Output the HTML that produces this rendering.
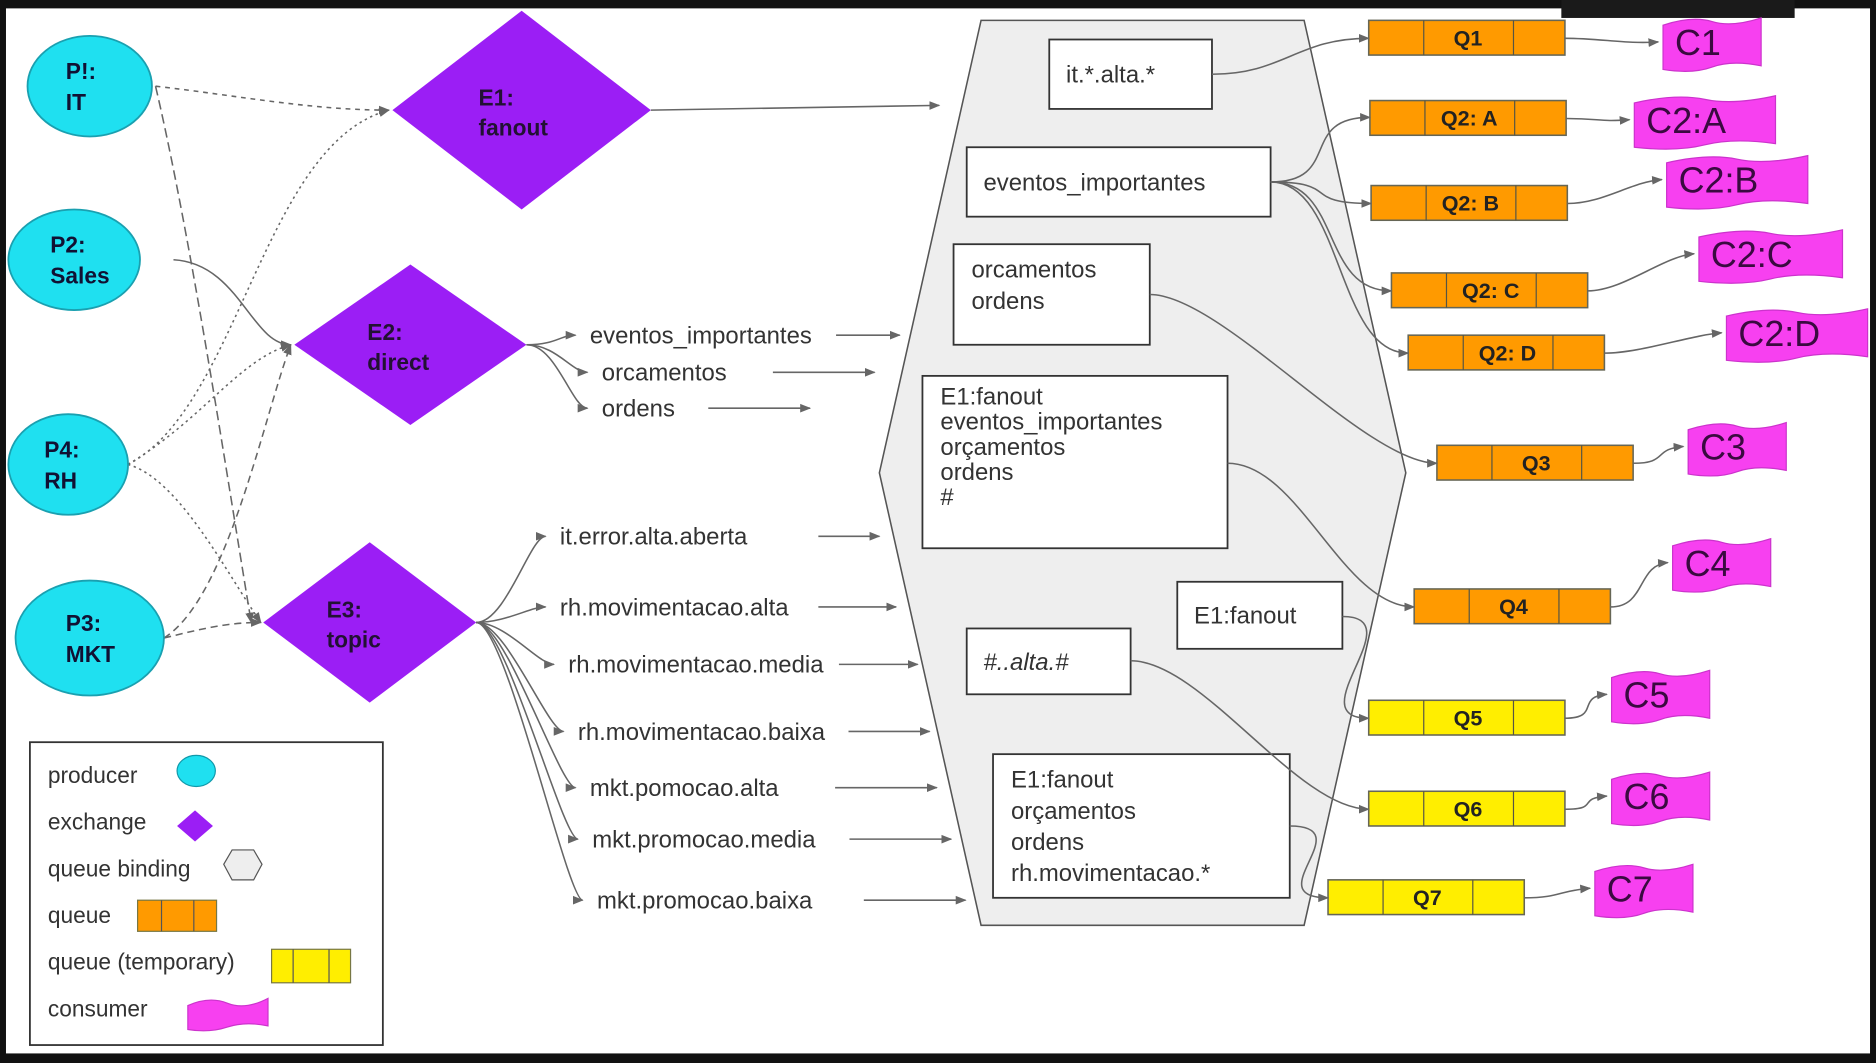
<!DOCTYPE html>
<html><head><meta charset="utf-8"><style>
html,body{margin:0;padding:0;background:#111;}
svg{display:block;}
text{font-family:"Liberation Sans",sans-serif;}
</style></head><body>
<svg width="1876" height="1063" viewBox="0 0 1568 888" preserveAspectRatio="none">
<defs><marker id="ar" viewBox="0 0 10 10" refX="9" refY="5" markerWidth="7" markerHeight="7" orient="auto"><path d="M0,1 L10,5 L0,9 z" fill="#666"/></marker></defs>
<rect x="0" y="0" width="1568" height="888" fill="#111"/>
<rect x="5" y="7" width="1558" height="873" fill="#fff"/>
<rect x="1305" y="0" width="195" height="15" fill="#1a1a1a"/>
<g id="edges" fill="none" stroke="#666" stroke-width="1.3"></g>
<polygon points="820,17 1090,17 1175,395 1090,773 820,773 735,395" fill="#eeeeee" stroke="#555" stroke-width="1.3"/>
<g id="nodes"></g>
<g id="lines" fill="none" stroke="#666" stroke-width="1.3"></g>
<g>
<rect x="25" y="620" width="295" height="253" fill="#fff" stroke="#333" stroke-width="1.5"/>
<text x="40" y="654" font-size="19" fill="#333">producer</text>
<ellipse cx="164" cy="644" rx="16" ry="13" fill="#1fe0f0" stroke="#19a"/>
<text x="40" y="693" font-size="19" fill="#333">exchange</text>
<polygon points="163,677 178,690 163,703 148,690" fill="#9b1ef5"/>
<text x="40" y="732" font-size="19" fill="#333">queue binding</text>
<polygon points="194,710 212,710 219,722 212,735 194,735 187,722" fill="#eee" stroke="#555"/>
<text x="40" y="771" font-size="19" fill="#333">queue</text>
<rect x="115" y="752" width="66" height="26" fill="#ff9a00" stroke="#774"/><line x1="135" y1="752" x2="135" y2="778" stroke="#555"/><line x1="162" y1="752" x2="162" y2="778" stroke="#555"/>
<text x="40" y="810" font-size="19" fill="#333">queue (temporary)</text>
<rect x="227" y="793" width="66" height="28" fill="#ffee00" stroke="#774"/><line x1="245" y1="793" x2="245" y2="821" stroke="#555"/><line x1="275" y1="793" x2="275" y2="821" stroke="#555"/>
<text x="40" y="849" font-size="19" fill="#333">consumer</text>
<path d="M157,840 Q175,832 190,838 T224,834 L224,857 Q205,853 190,858 T157,860 Z" fill="#f740f0" stroke="#c3c"/>
</g>
</svg>
<script>
const NS='http://www.w3.org/2000/svg';
const nodes=document.getElementById('nodes'),lines=document.getElementById('lines'),edges=document.getElementById('edges');
function mk(tag,attrs,parent){const e=document.createElementNS(NS,tag);for(const k in attrs)e.setAttribute(k,attrs[k]);parent.appendChild(e);return e;}
function txt(x,y,s,size,parent,extra){const t=mk('text',Object.assign({x:x,y:y,'font-size':size,fill:'#222'},extra||{}),parent);t.textContent=s;return t;}
const producers=[['P!:','IT',75,72,52,42],['P2:','Sales',62,217,55,42],['P4:','RH',57,388,50,42],['P3:','MKT',75,533,62,48]];
producers.forEach(p=>{const g=mk('g',{},nodes);


mk('ellipse',{cx:p[2],cy:p[3],rx:p[4],ry:p[5],fill:'#1fe0f0',stroke:'#1aa0b0','stroke-width':1.5},g);
txt(p[2]-20,p[3]-6,p[0],19,g,{'font-weight':'bold',fill:'#113'});txt(p[2]-20,p[3]+20,p[1],19,g,{'font-weight':'bold',fill:'#113'});});
const exch=[['E1:','fanout',436,92,108,83],['E2:','direct',343,288,97,67],['E3:','topic',309,520,89,67]];
exch.forEach(e=>{const g=mk('g',{},nodes);


const [cx,cy,hw,hh]=[e[2],e[3],e[4],e[5]];
mk('polygon',{points:`${cx},${cy-hh} ${cx+hw},${cy} ${cx},${cy+hh} ${cx-hw},${cy}`,fill:'#9b1ef5'},g);
txt(cx-36,cy-4,e[0],19,g,{'font-weight':'bold',fill:'#213'});txt(cx-36,cy+21,e[1],19,g,{'font-weight':'bold',fill:'#213'});});
const boxes=[[877,33,136,58,['it.*.alta.*'],'binding-it-alta'],[808,123,254,58,['eventos_importantes'],'binding-eventos'],[797,204,164,84,['orcamentos','ordens'],'binding-orcamentos'],[771,314,255,144,['E1:fanout','eventos_importantes','orçamentos','ordens','#'],'binding-e1-multi'],[984,486,138,56,['E1:fanout'],'binding-e1-fanout'],[808,525,137,55,['#..alta.#'],'binding-alta'],[830,630,248,120,['E1:fanout','orçamentos','ordens','rh.movimentacao.*'],'binding-rh']];
boxes.forEach(b=>{const g=mk('g',{},nodes);


mk('rect',{x:b[0],y:b[1],width:b[2],height:b[3],fill:'#fff',stroke:'#333','stroke-width':1.5},g);
const lh=b[4].length>=5?21:26;
const y0=b[4].length===1?b[1]+b[3]/2+7:b[1]+(b[4].length>=5?24:28);
b[4].forEach((s,i)=>txt(b[0]+(b[4].length===1?14:15),y0+i*lh,s,20,g,{fill:'#333','font-style':s.indexOf('#..')===0?'italic':'normal'}));});
const queues=[['Q1',1144,17,'#ff9a00','C1',1390,15,82],['Q2: A',1145,84,'#ff9a00','C2:A',1366,80,118],['Q2: B',1146,155,'#ff9a00','C2:B',1393,130,118],['Q2: C',1163,228,'#ff9a00','C2:C',1420,192,120],['Q2: D',1177,280,'#ff9a00','C2:D',1443,258,118],['Q3',1201,372,'#ff9a00','C3',1411,353,82],['Q4',1182,492,'#ff9a00','C4',1398,450,82],['Q5',1144,585,'#ffee00','C5',1347,560,82],['Q6',1144,661,'#ffee00','C6',1347,645,82],['Q7',1110,735,'#ffee00','C7',1333,722,82]];
queues.forEach(q=>{const g=mk('g',{},nodes);


const x=q[1],y=q[2];
mk('rect',{x:x,y:y,width:164,height:29,fill:q[3],stroke:'#665','stroke-width':1.3},g);
mk('line',{x1:x+46,y1:y,x2:x+46,y2:y+29,stroke:'#554'},g);mk('line',{x1:x+121,y1:y,x2:x+121,y2:y+29,stroke:'#554'},g);
txt(x+83,y+21,q[0],18,g,{'font-weight':'bold','text-anchor':'middle',fill:'#222'});
const c=mk('g',{},nodes);


const cx=q[5],cy=q[6],w=q[7],h=40;
mk('path',{d:`M${cx},${cy+6} Q${cx+w*0.3},${cy-2} ${cx+w*0.5},${cy+3} T${cx+w},${cy} L${cx+w},${cy+h} Q${cx+w*0.7},${cy+h-5} ${cx+w*0.5},${cy+h+1} T${cx},${cy+h+3} Z`,fill:'#f740f0',stroke:'#c3c'},c);
txt(cx+10,cy+31,q[4],30,c,{fill:'#3a0a40'});
const qx=x+164,qy=y+15;
mk('path',{d:`M${qx},${qy} C${qx+30},${qy} ${cx-30},${cy+22} ${cx-4},${cy+20}`,'marker-end':'url(#ar)'},lines);});
const keys=[['eventos_importantes',493,287,727],['orcamentos',503,318,706],['ordens',503,348,652],['it.error.alta.aberta',468,455,710],['rh.movimentacao.alta',468,514,724],['rh.movimentacao.media',475,562,742],['rh.movimentacao.baixa',483,618,752],['mkt.pomocao.alta',493,665,758],['mkt.promocao.media',495,708,770],['mkt.promocao.baixa',499,759,782]];
keys.forEach((k,i)=>{const g=mk('g',{},nodes);


txt(k[1],k[2],k[0],20,g,{fill:'#333'});
const y=k[2]-7;
const w=k[0].length*10.2;
mk('line',{x1:(k[1]+w>k[3]-60?k[1]+w+12:k[3]-60),y1:y,x2:k[3]+25,y2:y,'marker-end':'url(#ar)'},lines);
const src=i<3?[440,288]:[398,520];
mk('path',{d:`M${src[0]},${src[1]} C${src[0]+25},${src[1]} ${k[1]-25},${y} ${k[1]-12},${y}`,'marker-end':'url(#ar)'},lines);});
const pe=[['M130,72 C200,80 260,92 325,92','4 4'],['M130,72 C160,200 190,400 210,520','8 4'],['M145,217 C200,220 210,288 243,288',''],['M107,388 C200,340 220,120 325,92','2 3'],['M107,388 C170,350 200,300 243,288','2 3'],['M107,388 C150,400 190,480 218,520','2 3'],['M137,533 C190,500 220,350 243,288','6 4'],['M137,533 C170,525 190,520 218,520','6 4']];
pe.forEach(p=>{mk('path',{d:p[0],'stroke-dasharray':p[1],'marker-end':'url(#ar)'},edges);});
mk('line',{x1:544,y1:92,x2:785,y2:88,'marker-end':'url(#ar)'},lines);
const bq=[[1013,62,1144,32],[1062,152,1145,98],[1062,152,1146,170],[1062,152,1163,243],[1062,152,1177,295],[961,246,1201,387],[1026,387,1182,507],[1122,515,1144,600],[945,552,1144,676],[1078,690,1110,750]];
bq.forEach(b=>mk('path',{d:`M${b[0]},${b[1]} C${b[0]+60},${b[1]} ${b[2]-60},${b[3]} ${b[2]},${b[3]}`,'marker-end':'url(#ar)'},lines));
</script>
</body></html>
